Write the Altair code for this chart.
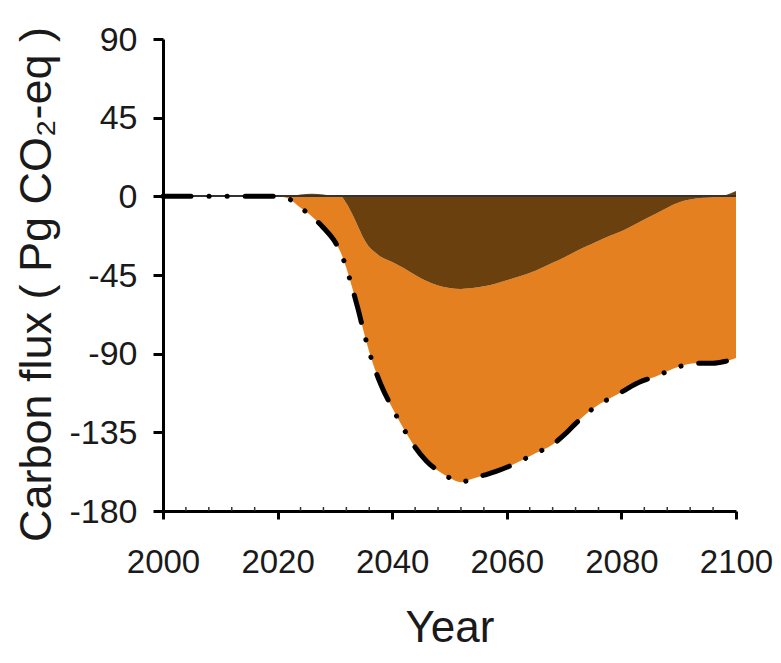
import altair as alt
import pandas as pd

# --- data ---
years = [2000, 2010, 2020, 2022, 2024, 2026, 2028, 2030, 2031, 2032, 2033, 2034,
         2035, 2036, 2037, 2038, 2040, 2042, 2044, 2046, 2048, 2050, 2052, 2054,
         2056, 2058, 2060, 2062, 2065, 2068, 2070, 2072, 2075, 2078, 2080, 2083,
         2086, 2090, 2093, 2096, 2098, 2100]
# total flux (dash-dot line, lower edge of the orange area)
total = [0, 0, 0, -1.5, -6.5, -11.5, -18, -26, -32, -41, -52, -64,
         -77, -89, -99, -107.5, -121, -133, -143.5, -151.5, -157, -161, -163.5, -161.5,
         -159.5, -157.5, -155, -152, -147, -142, -136.5, -130, -121.5, -115.5, -112, -106.5,
         -103, -97.5, -95.5, -95.5, -94.5, -92.5]
# dark-brown component (from zero)
brown = [0, 0, 0, 0, 1, 1.5, 1, 0, 0, -4, -10, -17,
         -24, -29, -32, -34.5, -37.5, -41, -45, -48.5, -51, -52.5, -53, -52.5,
         -51.5, -50, -48, -46, -42.5, -38, -35, -31.5, -27, -22.5, -20, -15,
         -10, -3.5, -1.3, -0.4, 0.5, 3]

x_ticks = [2000, 2020, 2040, 2060, 2080, 2100]
y_ticks = [-180, -135, -90, -45, 0, 45, 90]
minor_years = [y for y in range(2004, 2100, 4) if y % 20 != 0]

BROWN = "#6A400E"
ORANGE = "#E4801F"
FONT = "Liberation Sans"
Y_TITLE = "Carbon flux ( Pg CO\u2082-eq )"

df = pd.DataFrame({"year": years, "total": total, "brown": brown})
df["top"] = df["brown"].clip(upper=0)
minor_df = pd.DataFrame({"year": minor_years})

W, H = 573, 472
xscale = alt.Scale(domain=[2000, 2100], nice=False, zero=False)
yscale = alt.Scale(domain=[-180, 90], nice=False, zero=False)

x_axis = alt.Axis(values=x_ticks, labelExpr="toString(datum.value)", title="Year",
                  tickSize=8, tickWidth=3, labelPadding=53, labelBaseline="alphabetic",
                  labelFontSize=33, titleFontSize=44, titleY=130,
                  titleBaseline="alphabetic", labelFlush=False)
y_axis = alt.Axis(values=y_ticks, labelExpr="toString(datum.value)", title=Y_TITLE,
                  tickSize=10, tickWidth=3, labelPadding=16, labelFontSize=34,
                  labelBaseline="middle", labelOffset=1,
                  titleFontSize=45, titleAngle=270, titleX=-113, titleY=245,
                  titleAlign="center", titleBaseline="alphabetic")


def X():
    return alt.X("year:Q", scale=xscale, axis=x_axis, title="Year")


def Yf(field):
    return alt.Y(field, scale=yscale, axis=y_axis, title=Y_TITLE)


orange = alt.Chart(df).mark_area(color=ORANGE, interpolate="monotone").encode(
    x=X(), y=Yf("top:Q"), y2="total:Q",
)
brown_area = alt.Chart(df).mark_area(color=BROWN, interpolate="monotone").encode(
    x=X(), y=Yf("brown:Q"), y2=alt.datum(0),
)
line = alt.Chart(df).mark_line(color="black", strokeWidth=5, strokeCap="round",
                               strokeDash=[28, 18, 0.1, 18, 0.1, 18],
                               interpolate="monotone").encode(
    x=X(), y=Yf("total:Q"),
)
zero = alt.Chart(df).mark_rule(color="#333333", strokeWidth=1.5).encode(
    y=alt.Y(datum=0, scale=yscale, axis=y_axis, title=Y_TITLE),
)
minor = alt.Chart(minor_df).mark_rule(color="#333333", strokeWidth=1.5).encode(
    x=X(), y=alt.value(H), y2=alt.value(H - 4),
)

chart = alt.layer(orange, brown_area, zero, line, minor).properties(
    width=W, height=H,
    autosize=alt.AutoSizeParams(type="none"),
    padding={"left": 155, "top": 31, "right": 37, "bottom": 142},
    background="white",
).configure_view(stroke=None).configure_axis(
    domainColor="black", domainWidth=3, tickColor="black", grid=False,
    labelFont=FONT, titleFont=FONT, labelColor="#1a1a1a", titleColor="#1a1a1a",
    titleFontWeight="normal",
)

chart.save("out.html", embed_options={"renderer": "svg", "actions": False})
